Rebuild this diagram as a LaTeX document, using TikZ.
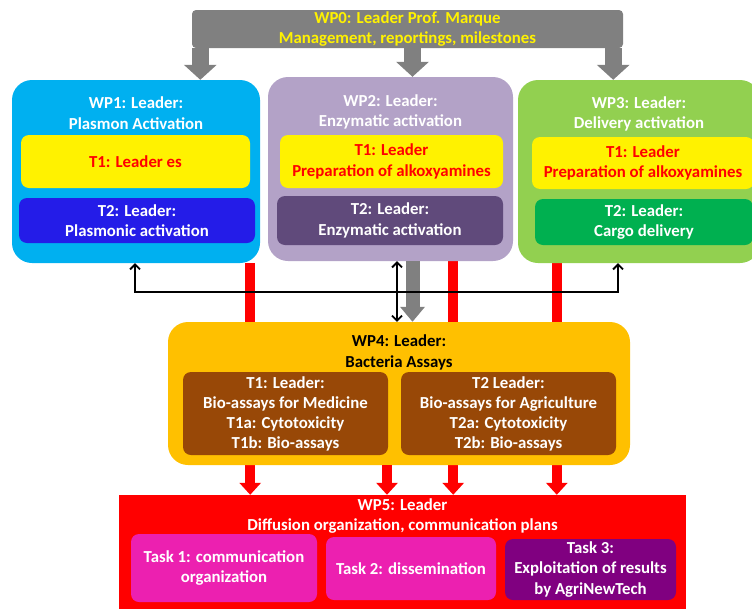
\documentclass[tikz,border=0pt]{standalone}
\usepackage{fontspec}
\setmainfont{Carlito}
\usepackage{tikz}
\usetikzlibrary{arrows.meta,backgrounds}
\definecolor{wpgray}{RGB}{128,128,128}
\definecolor{wpblue}{RGB}{0,176,240}
\definecolor{wplilac}{RGB}{179,162,199}
\definecolor{wpgreen}{RGB}{146,208,80}
\definecolor{wporange}{RGB}{255,192,0}
\definecolor{taskblue}{RGB}{36,28,232}
\definecolor{taskpurple}{RGB}{96,74,123}
\definecolor{taskgreen}{RGB}{0,176,80}
\definecolor{taskbrown}{RGB}{152,72,7}
\definecolor{taskpink}{RGB}{236,32,176}
\definecolor{taskviolet}{RGB}{128,0,128}
\newcommand{\wptext}{\bfseries\fontsize{16.8}{20.5}\selectfont}

\begin{document}
\begin{tikzpicture}[x=1pt,y=-1pt,
    wpbox/.style={rectangle, rounded corners=20pt, inner sep=0pt},
    taskbox/.style={rectangle, rounded corners=8pt, inner sep=0pt, align=center, font=\wptext},
    titletext/.style={align=center, font=\wptext, inner sep=0pt},
    grayarrow/.style={draw=wpgray, line width=17pt, -{Triangle[width=32pt,length=15pt]}},
    redarrow/.style={draw=red, line width=10pt, -{Triangle[width=21pt,length=12pt]}},
    linkarrow/.style={draw=black, line width=1.8pt, {Straight Barb[width=10pt,length=5pt]}-{Straight Barb[width=10pt,length=5pt]}},
    ]
    \useasboundingbox (0,0) rectangle (752,608);

    %Nodes
    \node[rectangle, rounded corners=4pt, fill=wpgray, minimum width=431pt, minimum height=38pt, text=yellow, titletext]
        (wp0) at (407.5,29) {WP0: Leader Prof. Marque\\Management, reportings, milestones};

    \node[wpbox, fill=wpblue, minimum width=248pt, minimum height=183pt] (wp1) at (136,171.5) {};
    \node[titletext, text=white] (wp1title) at (136,113) {WP1: Leader:\\Plasmon Activation};
    \node[taskbox, fill=yellow, text=red, minimum width=229pt, minimum height=53pt] (wp1t1) at (135.5,161.5) {T1: Leader es};
    \node[taskbox, fill=taskblue, text=white, minimum width=236pt, minimum height=45pt] (wp1t2) at (137,220.5) {T2: Leader:\\Plasmonic activation};

    \node[wpbox, fill=wplilac, minimum width=245pt, minimum height=184pt] (wp2) at (390.5,169) {};
    \node[titletext, text=white] (wp2title) at (390.5,112) {WP2: Leader:\\Enzymatic activation};
    \node[taskbox, fill=yellow, text=red, minimum width=223pt, minimum height=53pt] (wp2t1) at (391.5,161.5) {T1: Leader\\Preparation of alkoxyamines};
    \node[taskbox, fill=taskpurple, text=white, minimum width=226pt, minimum height=49pt] (wp2t2) at (390,220.5) {T2: Leader:\\Enzymatic activation};

    \node[wpbox, fill=wpgreen, minimum width=242pt, minimum height=183pt] (wp3) at (639,171.5) {};
    \node[titletext, text=white] (wp3title) at (639,114) {WP3: Leader:\\Delivery activation};
    \node[taskbox, fill=yellow, text=red, minimum width=222pt, minimum height=52pt] (wp3t1) at (643,163) {T1: Leader\\Preparation of alkoxyamines};
    \node[taskbox, fill=taskgreen, text=white, minimum width=218pt, minimum height=46pt] (wp3t2) at (644,222) {T2: Leader:\\Cargo delivery};

    \node[wpbox, fill=wporange, minimum width=462pt, minimum height=143pt] (wp4) at (399,393.5) {};
    \node[titletext, text=black] (wp4title) at (399,352.5) {WP4: Leader:\\Bacteria Assays};
    \node[taskbox, fill=taskbrown, text=white, minimum width=205pt, minimum height=83pt, font=\bfseries\fontsize{16.8}{20}\selectfont] (wp4t1) at (285.5,413.5)
        {T1: Leader:\\Bio-assays for Medicine\\T1a: Cytotoxicity\\T1b: Bio-assays};
    \node[taskbox, fill=taskbrown, text=white, minimum width=215pt, minimum height=83pt, font=\bfseries\fontsize{16.8}{20}\selectfont] (wp4t2) at (508.5,413.5)
        {T2 Leader:\\Bio-assays for Agriculture\\T2a: Cytotoxicity\\T2b: Bio-assays};

    \node[rectangle, fill=red, minimum width=567pt, minimum height=120pt] (wp5) at (402.5,555) {};
    \node[titletext, text=white] (wp5title) at (402.5,516) {WP5: Leader\\Diffusion organization, communication plans};
    \node[taskbox, fill=taskpink, text=white, minimum width=186pt, minimum height=68pt] (wp5t1) at (224,568) {Task 1: communication\\organization};
    \node[taskbox, fill=taskpink, text=white, minimum width=170pt, minimum height=63pt] (wp5t2) at (411,568.5) {Task 2: dissemination};
    \node[taskbox, fill=taskviolet, text=white, minimum width=171pt, minimum height=61pt] (wp5t3) at (590.5,569.5) {Task 3:\\Exploitation of results\\by AgriNewTech};

    \coordinate (hub) at (397,292);

    %Lines
    \draw[grayarrow] ([xshift=8.5pt]wp0.south west) -- ([xshift=8.5pt]wp0.south west |- wp1.north);
    \draw[grayarrow] ([xshift=5pt]wp0.south) -- ([xshift=5pt]wp0.south |- wp2.north);
    \draw[grayarrow] ([xshift=-10pt]wp0.south east) -- ([xshift=-10pt]wp0.south east |- wp3.north);

    \begin{pgfonlayer}{background}
    \draw[redarrow] ([xshift=-10pt]wp1.south east) -- ([xshift=-10pt]wp1.south east |- wp5.north);
    \draw[redarrow] ([xshift=-60pt]wp2.south east) -- ([xshift=-60pt]wp2.south east |- wp5.north);
    \draw[redarrow] ([xshift=39pt]wp3.south west) -- ([xshift=39pt]wp3.south west |- wp5.north);
    \end{pgfonlayer}
    \draw[redarrow] ([xshift=-12pt]wp4.south) -- ([xshift=-12pt]wp4.south |- wp5.north);

    \draw[draw=wpgray, line width=14pt, -{Triangle[width=24pt,length=15pt]}] ([xshift=22pt]wp2.south) -- ([xshift=22pt]wp2.south |- wp4.north);
    \draw[linkarrow] ([xshift=-1pt]wp1.south) |- (hub) -| ([xshift=-21pt]wp3.south);
    \draw[linkarrow] (hub |- wp2.south) -- (hub |- wp4.north);
\end{tikzpicture}
\end{document}
